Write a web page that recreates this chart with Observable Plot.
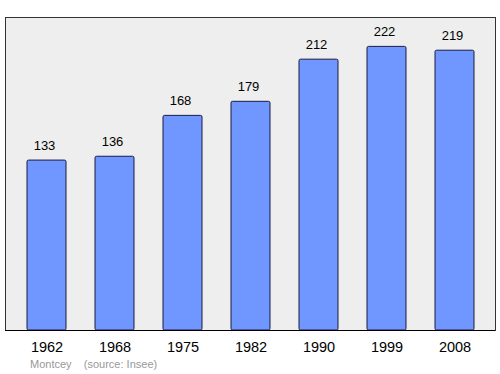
<!DOCTYPE html>
<html>
<head>
<meta charset="utf-8">
<script src="https://cdn.jsdelivr.net/npm/d3@7"></script>
<script src="https://cdn.jsdelivr.net/npm/@observablehq/plot@0.6"></script>
<style>
  html, body { margin: 0; padding: 0; background: #fff; }
  #chart svg { display: block; }
  #caption { font-family: "Liberation Sans", Arial, sans-serif; font-size: 11px; color: #999; margin-left: 30px; line-height: 16px; white-space: pre; }
</style>
</head>
<body>
<div id="chart"></div>
<div id="caption">Montcey    (source: Insee)</div>
<script>
const years = ["1962", "1968", "1975", "1982", "1990", "1999", "2008"];
const population = [133, 136, 168, 179, 212, 222, 219];

const data = years.map((y, i) => ({year: y, value: population[i]}));

const chart = Plot.plot({
  width: 500,
  height: 356,
  marginLeft: 5,
  marginRight: 5,
  marginTop: 17,
  marginBottom: 26,
  style: {fontFamily: "Liberation Sans, Arial, sans-serif", background: "#fff"},
  x: {domain: years, paddingInner: 0.43, paddingOuter: 0.22, insetLeft: 6, insetRight: 6, label: null},
  y: {domain: [0, 245], axis: null},
  marks: [
    Plot.frame({fill: "#eeeeee", stroke: "#333", strokeWidth: 1}),
    Plot.barY(data, {x: "year", y: "value", fill: "#7096ff", stroke: "#1a1a40", strokeWidth: 1, rx: 1.5}),
    Plot.text(data, {x: "year", y: "value", text: d => String(d.value), dy: -15, dx: -2.5, fontSize: 13, fill: "#000"}),
    Plot.ruleY([0], {stroke: "#000", strokeWidth: 1.2}),
    Plot.axisX({tickSize: 0, tickPadding: 11, fontSize: 14.5, fill: "#000"})
  ]
});
document.getElementById("chart").appendChild(chart);
</script>
</body>
</html>
